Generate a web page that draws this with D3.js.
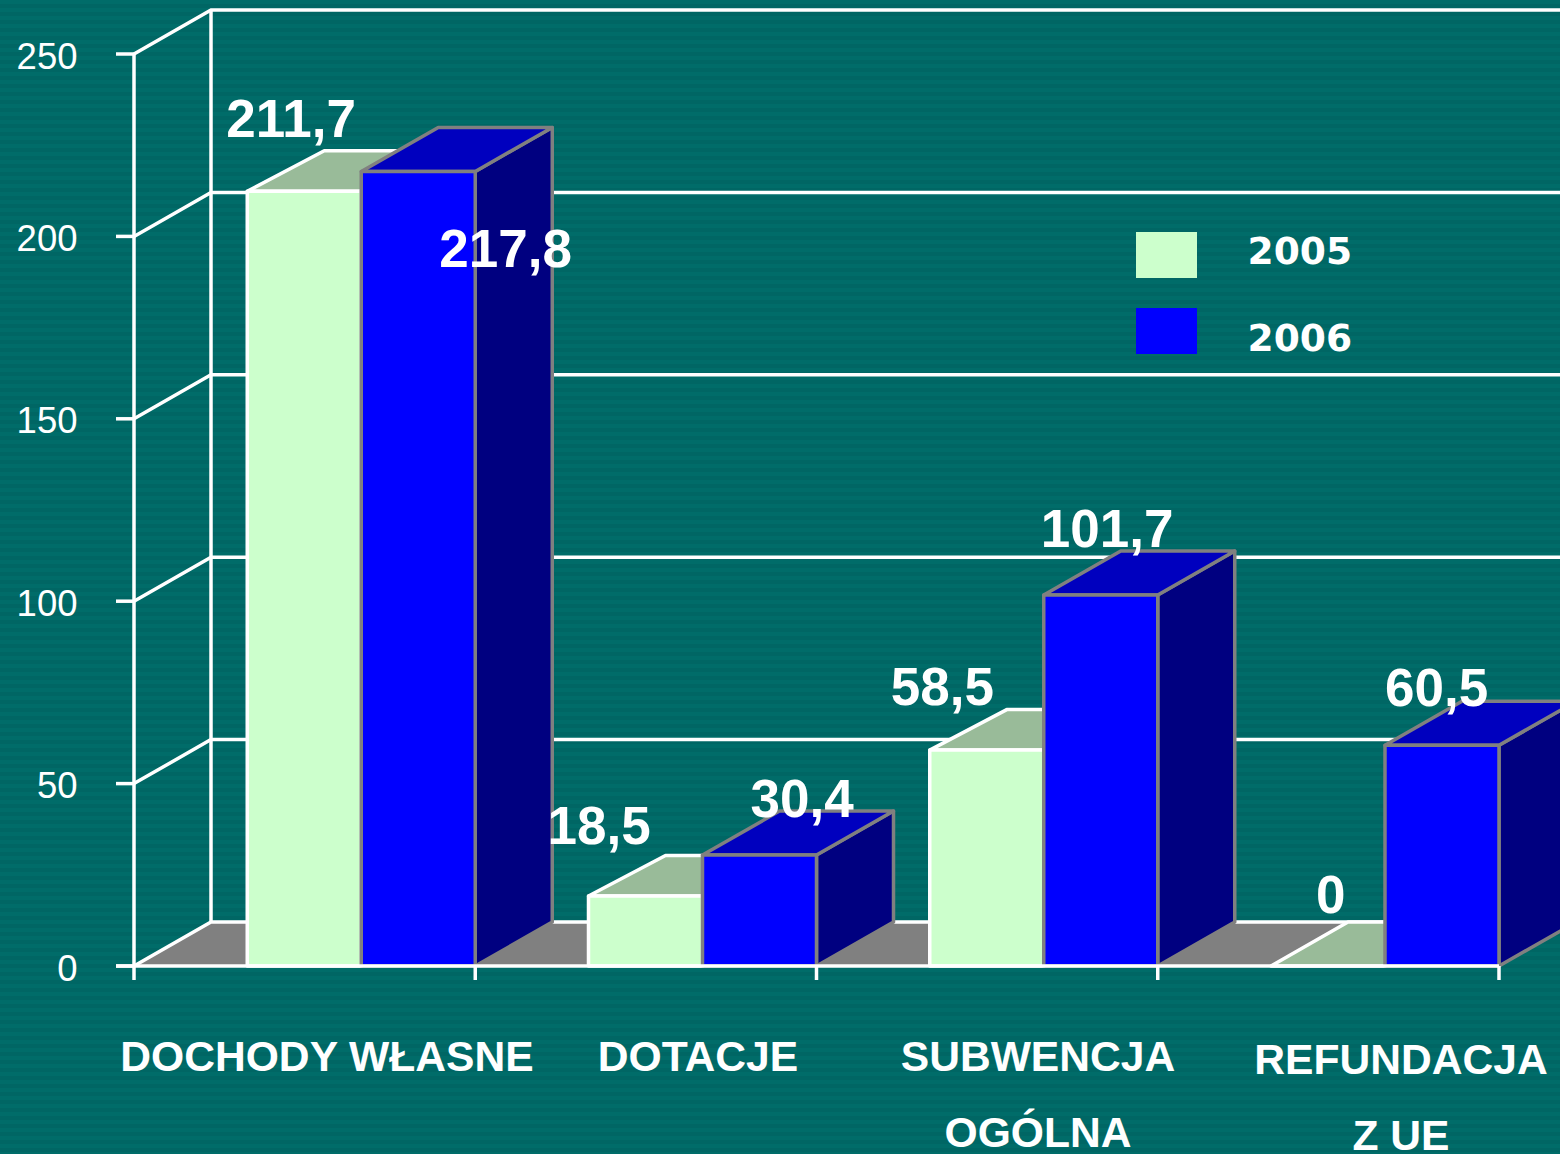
<!DOCTYPE html>
<html><head><meta charset="utf-8">
<script src="https://cdn.jsdelivr.net/npm/d3@7"></script>
<style>html,body{margin:0;padding:0;background:#006666;overflow:hidden}svg{display:block}</style>
</head><body><svg id="c" width="1560" height="1154"></svg>
<script>
const categories=[["DOCHODY WŁASNE"],["DOTACJE"],["SUBWENCJA","OGÓLNA"],["REFUNDACJA","Z UE"]];
const series2005=[211.7,18.5,58.5,0];
const series2006=[217.8,30.4,101.7,60.5];
const labels2005=["211,7","18,5","58,5","0"];
const labels2006=["217,8","30,4","101,7","60,5"];
const seriesNames=["2005","2006"];
const yTicks=[0,50,100,150,200,250];

const W=1560,H=1154,dx=77,dy=-44;
const svg=d3.select("#c");
const y=d3.scaleLinear().domain([0,250]).range([966,54]);
const x=d3.scaleBand().domain(d3.range(4)).range([134,1499]);
const barW=114,sw=3.5;
const white="#fff",gray="#808080";
const line=d3.line();

// striped background
const defs=svg.append("defs");
const pat=defs.append("pattern").attr("id","st").attr("patternUnits","userSpaceOnUse").attr("width",10).attr("height",8);
pat.append("rect").attr("width",10).attr("height",8).attr("fill","#006c69");
pat.append("rect").attr("y",4).attr("width",10).attr("height",4).attr("fill","#006664");
svg.append("rect").attr("width",W).attr("height",H).attr("fill","url(#st)");

const poly=(g,pts,fill,stroke)=>g.append("path").attr("d",line(pts)+"Z").attr("fill",fill).attr("stroke",stroke||"none").attr("stroke-width",stroke?sw:0).attr("stroke-linejoin","round");

// floor
const y0=y(0),xL=x.range()[0],xR=x.range()[1];
poly(svg,[[xL,y0],[xL+dx,y0+dy],[xR+dx,y0+dy],[xR,y0]],gray);

// gridlines: back wall and left wall
const grid=svg.append("g").attr("stroke",white).attr("stroke-width",sw).attr("fill","none");
yTicks.forEach(t=>{
  grid.append("path").attr("d",line([[xL,y(t)],[xL+dx,y(t)+dy],[W+5,y(t)+dy]]));
  grid.append("path").attr("d",line([[116,y(t)],[xL,y(t)]]));
  svg.append("text").attr("x",77.5).attr("y",y(t)+14.5).attr("text-anchor","end")
    .attr("font-family","Liberation Sans").attr("font-size",36.5).attr("fill",white).text(t);
});
grid.append("path").attr("d",line([[xL,y(250)],[xL,y(0)]]));
grid.append("path").attr("d",line([[xL+dx,y(250)+dy],[xL+dx,y(0)+dy]]));

// bars
function bar(x0,v,lift,backDrop,front,top,side,stroke){
  const g=svg.append("g");
  const yt=v>0?y(v)-lift:y0;
  const yb=y(v)+dy+(v>0?backDrop:0);
  poly(g,[[x0+barW,yt],[x0+barW+dx,yb],[x0+barW+dx,y0+dy],[x0+barW,y0]],side,stroke);
  poly(g,[[x0,yt],[x0+dx,yb],[x0+barW+dx,yb],[x0+barW,yt]],top,stroke);
  if(v>0) poly(g,[[x0,yt],[x0+barW,yt],[x0+barW,y0],[x0,y0]],front,stroke);
}
categories.forEach((c,i)=>{
  const xe=x(i)+x.bandwidth();
  bar(xe-2*barW,series2005[i],2.5,1,"#ccffcc","#99bb99","#669966",white);
  bar(xe-barW,series2006[i],0,0,"#0000ff","#0000bf","#000080",gray);
});

// baseline and x ticks
const base=svg.append("g").attr("stroke",white).attr("stroke-width",sw).attr("fill","none");
base.append("path").attr("d",line([[116,y0],[xR,y0]]));
d3.range(5).forEach(i=>{
  const px=i<4?x(i):xR;
  base.append("path").attr("d",line([[px,y0],[px,980]]));
});

// data labels: offsets from each bar's top-left corner
const off2005=[[-21,-57],[-41,-55],[-39,-48],[45,-53]];
const off2006=[[78,95.5],[48,-38],[-3,-48],[0,-39]];
const lab=(px,py,t)=>svg.append("text").attr("x",px).attr("y",py).attr("font-family","Liberation Sans")
  .attr("font-weight","bold").attr("font-size",53).attr("fill",white).text(t);
categories.forEach((c,i)=>{
  const xe=x(i)+x.bandwidth();
  lab(xe-2*barW+off2005[i][0],y(series2005[i])+off2005[i][1],labels2005[i]);
  lab(xe-barW+off2006[i][0],y(series2006[i])+off2006[i][1],labels2006[i]);
});

// category labels
const catCx=[327,698,1038,1401],catBase=[1071,1071,1071,1074];
categories.forEach((c,i)=>{
  c.forEach((s,j)=>svg.append("text").attr("x",catCx[i]).attr("y",catBase[i]+j*76).attr("text-anchor","middle")
    .attr("font-family","Liberation Sans").attr("font-weight","bold").attr("font-size",42.6).attr("fill",white).text(s));
});

// legend
const legendColors=["#ccffcc","#0000ff"],legY=[232,308],legBase=[264,351];
seriesNames.forEach((s,i)=>{
  svg.append("rect").attr("x",1136).attr("y",legY[i]).attr("width",61).attr("height",46).attr("fill",legendColors[i]);
  svg.append("text").attr("x",1247.5).attr("y",legBase[i]).attr("font-family","DejaVu Sans").attr("font-weight","bold")
    .attr("font-size",37.6).attr("fill",white).text(s);
});
</script>
</body></html>
